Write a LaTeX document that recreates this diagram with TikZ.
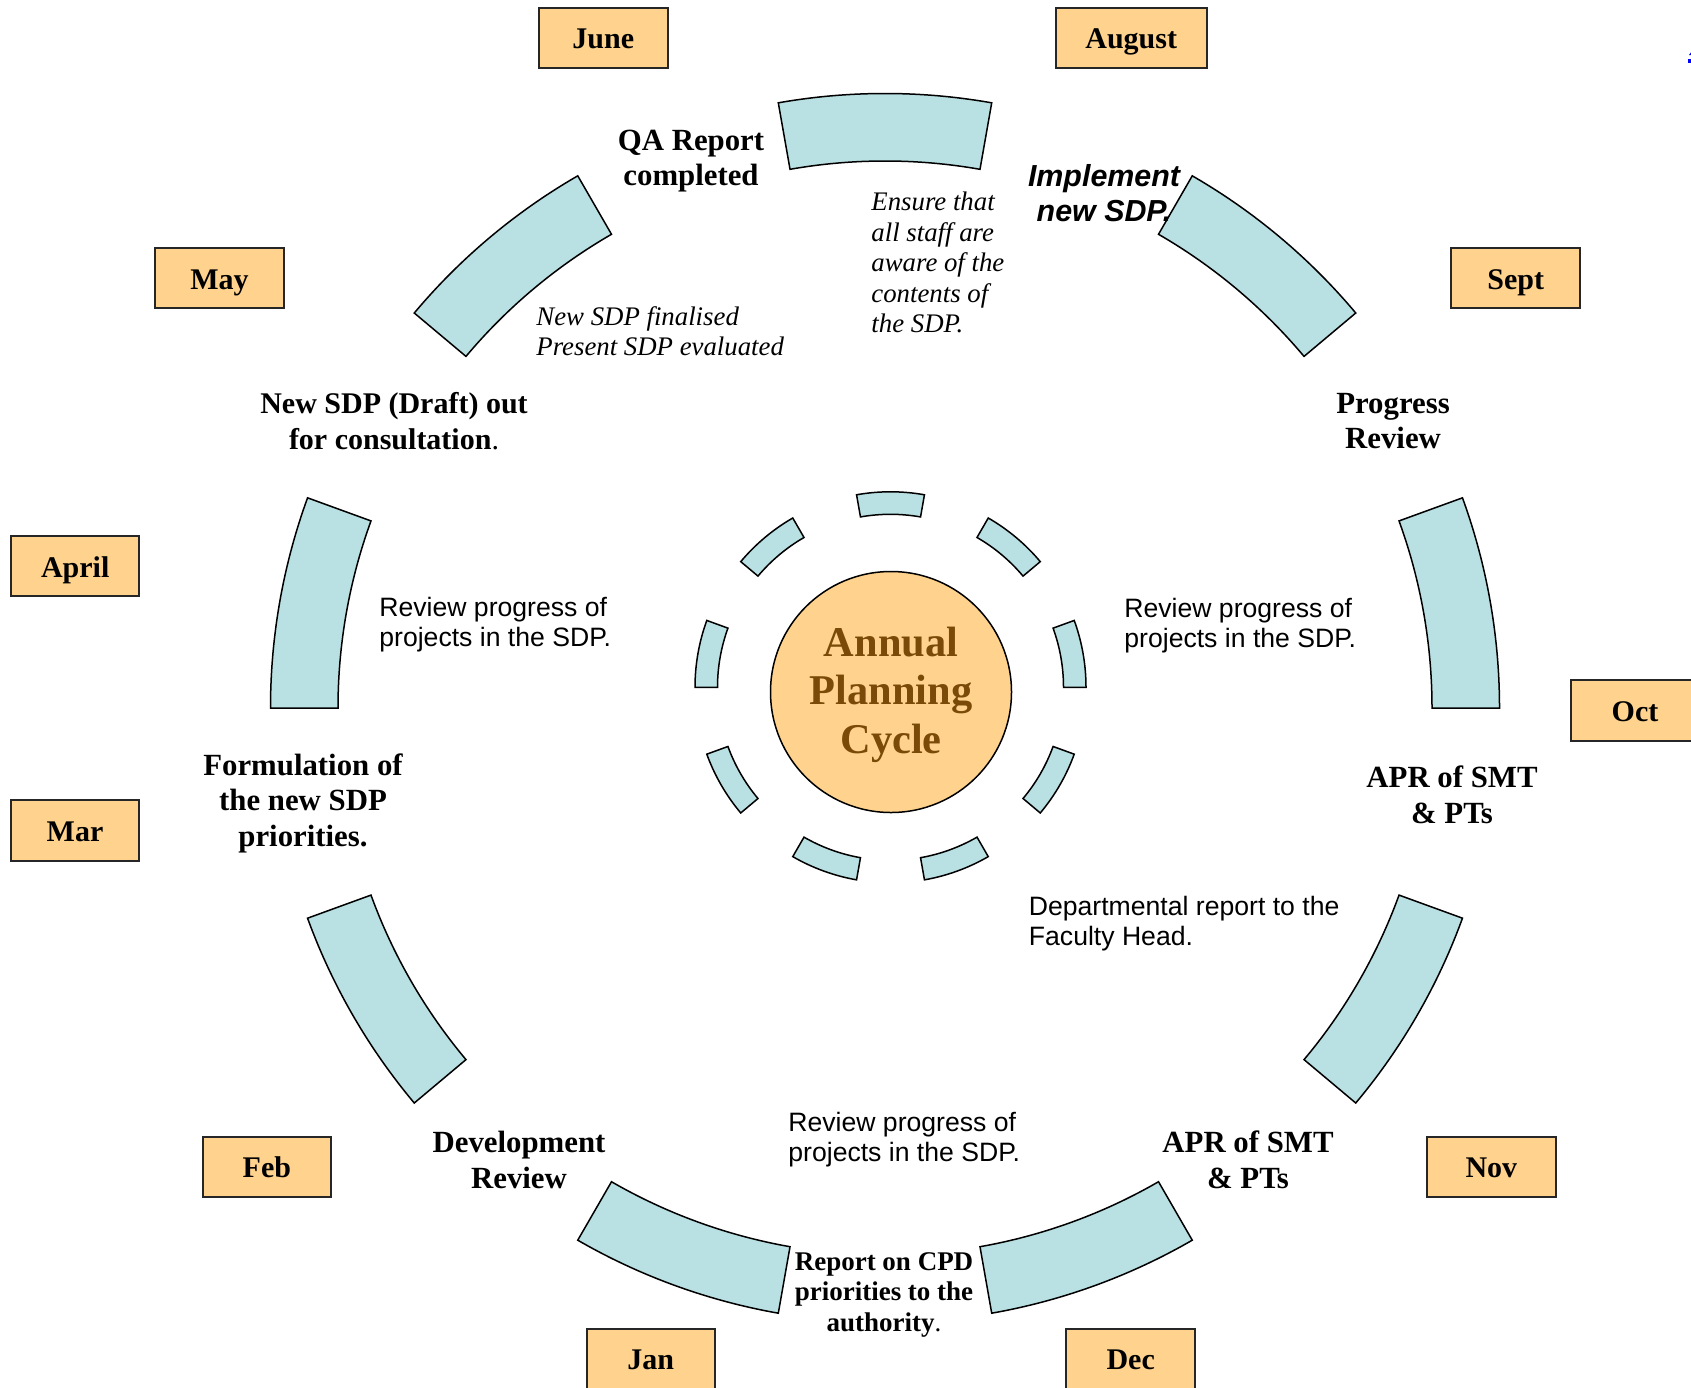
\documentclass[tikz,border=0pt]{standalone}
\usepackage{fontspec}
\setmainfont{Liberation Serif}
\newfontfamily\arialfont{Liberation Sans}
\definecolor{segblue}{RGB}{185,224,227}
\definecolor{boxorange}{RGB}{255,211,142}
\definecolor{titlebrown}{RGB}{122,75,8}
\begin{document}
\begin{tikzpicture}[x=0.5pt,y=0.5pt,
  seg/.style={fill=segblue,draw=black,line width=0.75pt,line join=miter},
  month/.style={fill=boxorange,draw=black!85,line width=1pt,minimum width=64.25pt,
    minimum height=30.25pt,inner sep=0pt,text height=10.8pt,text depth=0pt,
    font=\fontsize{15}{18}\selectfont\bfseries},
  head/.style={font=\fontsize{15.4}{17.75}\selectfont\bfseries,align=center,inner sep=0pt},
  cpdtext/.style={font=\fontsize{13.5}{15.4}\selectfont\bfseries,align=center,inner sep=0pt},
  note/.style={font=\fontsize{13.4}{15.25}\selectfont\itshape,align=left,inner sep=0pt,anchor=west},
  plain/.style={font=\arialfont\fontsize{13.3}{15}\selectfont,align=left,inner sep=0pt,anchor=west},
  impl/.style={font=\arialfont\fontsize{15.2}{17.25}\selectfont\bfseries\itshape,align=center,inner sep=0pt},
  core/.style={circle,draw=black,fill=boxorange,line width=0.75pt,minimum size=120.5pt,inner sep=0pt},
  coretext/.style={align=center,inner sep=0pt,text=titlebrown,font=\fontsize{21.2}{24.25}\selectfont\bfseries}
]
\useasboundingbox (0,0) rectangle (1691,-1387);
\clip (0,0) rectangle (1691,-1387);
\fill[white] (0,0) rectangle (1691,-1387);

% outer ring segments
\foreach \a in {0,40,...,320}{
  \pgfmathsetmacro\b{\a+20}
  \draw[seg] ([shift={(\a:614.5)}]885,-708) arc[start angle=\a,end angle=\b,radius=614.5]
    -- ([shift={(\b:547)}]885,-708) arc[start angle=\b,end angle=\a,radius=547] -- cycle;
}
% inner ring dashes
\foreach \a in {0,40,...,320}{
  \pgfmathsetmacro\b{\a+20}
  \draw[seg] ([shift={(\a:195.5)}]890.5,-687.3) arc[start angle=\a,end angle=\b,radius=195.5]
    -- ([shift={(\b:173)}]890.5,-687.3) arc[start angle=\b,end angle=\a,radius=173] -- cycle;
}

% centre
\node[core] (cycle) at (891,-692) {};
\node[coretext] (title) at (891,-694.7) {Annual\\Planning\\Cycle};

% months
\node[month] (june) at (603.3,-37.8) {June};
\node[month,minimum width=75.5pt] (aug) at (1131.2,-37.8) {August};
\node[month] (may) at (219.5,-278.2) {May};
\node[month] (sept) at (1515.7,-278.2) {Sept};
\node[month] (april) at (75.2,-566.2) {April};
\node[month] (oct) at (1635,-710.4) {Oct};
\node[month] (mar) at (75,-830.3) {Mar};
\node[month] (feb) at (266.9,-1166.8) {Feb};
\node[month] (nov) at (1491.4,-1166.8) {Nov};
\node[month] (jan) at (650.8,-1358.9) {Jan};
\node[month] (dec) at (1130.7,-1358.9) {Dec};

% labels
\node[head] (qa) at (691,-161.3) {QA Report\\completed};
\node[impl] (implement) at (1104,-193) {Implement\\new SDP.};
\node[note] (ensure) at (871,-262.6) {Ensure that\\all staff are\\aware of the\\contents of\\the SDP.};
\node[note] (finalised) at (536,-331) {New SDP finalised\\Present SDP evaluated};
\node[head,font=\fontsize{15}{17.75}\selectfont\bfseries] (draft) at (394,-421) {New SDP (Draft) out\\for consultation\textmd{.}};
\node[head] (progress) at (1393,-421) {Progress\\Review};
\node[plain] (revleft) at (379,-624.2) {Review progress of\\projects in the SDP.};
\node[plain] (revright) at (1124,-625.2) {Review progress of\\projects in the SDP.};
\node[head] (aprtop) at (1452,-795) {APR of SMT\\\& PTs};
\node[head] (formulation) at (303,-803.2) {Formulation of\\the new SDP\\priorities.};
\node[plain] (dept) at (1028.5,-923.2) {Departmental report to the\\Faculty Head.};
\node[plain] (revbottom) at (788,-1139.2) {Review progress of\\projects in the SDP.};
\node[head] (devreview) at (519,-1160) {Development\\Review};
\node[head] (aprbottom) at (1248,-1160) {APR of SMT\\\& PTs};
\node[cpdtext] (cpd) at (884,-1294.8) {Report on CPD\\priorities to the\\authority\textmd{.}};

% small blue fragment at the right edge
\fill[blue] (1688,-59) rectangle (1692,-63);
\fill[blue] (1689,-55) -- (1692,-51) -- (1692,-55) -- cycle;
\end{tikzpicture}
\end{document}
